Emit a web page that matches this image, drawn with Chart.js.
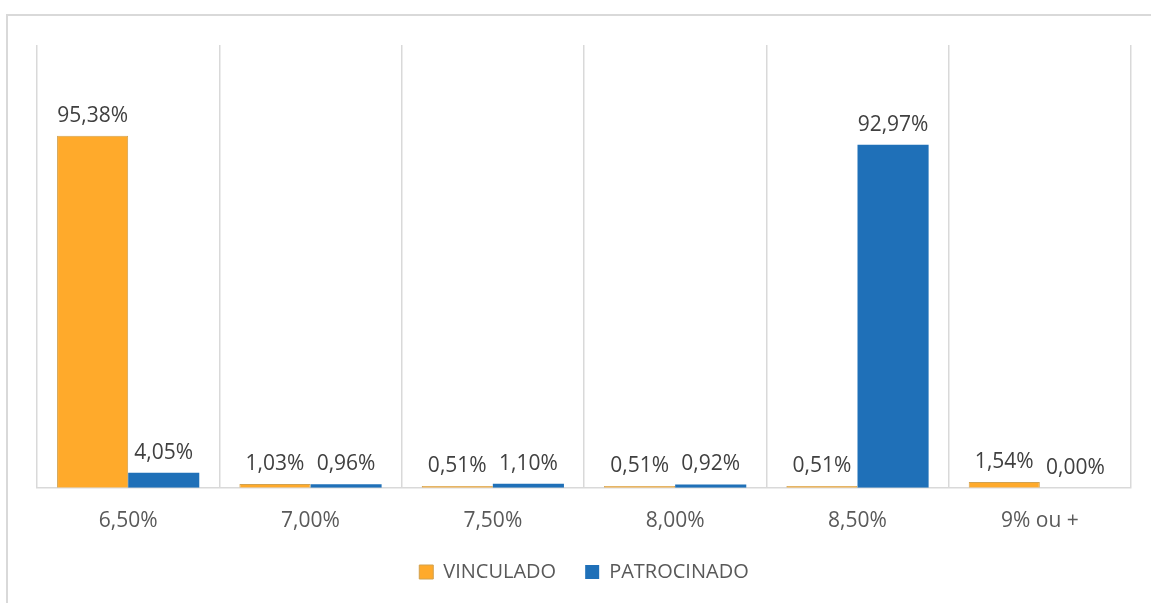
<!DOCTYPE html>
<html>
<head>
<meta charset="utf-8">
<script src="https://cdn.jsdelivr.net/npm/chart.js@4.4.1/dist/chart.umd.min.js"></script>
<style>
  html, body { margin: 0; padding: 0; background: #ffffff; }
  #wrap { position: relative; width: 1151px; height: 603px; }
  #moldura {
    position: absolute; left: 6px; top: 14px; right: 0; bottom: 0;
    border-top: 2px solid #d9d9d9; border-left: 2px solid #d9d9d9;
  }
  canvas { position: absolute; left: 0; top: 0; }
</style>
</head>
<body>
<div id="wrap">
  <div id="moldura"></div>
  <canvas id="myChart" width="1151" height="603"></canvas>
</div>
<script>
// categorias (taxas)
const categorias = ['6,50%', '7,00%', '7,50%', '8,00%', '8,50%', '9% ou +']

// nomes das series
const nomesSeries = ['VINCULADO', 'PATROCINADO']

// valores de cada serie (%)
const valoresVinculado = [95.38, 1.03, 0.51, 0.51, 0.51, 1.54]
const valoresPatrocinado = [4.05, 0.96, 1.10, 0.92, 92.97, 0.00]

// cores
const corVinculado = '#ffaa2b'
const bordaVinculado = '#d2a24f'
const corPatrocinado = '#1f70b8'

const fonte = "'Open Sans', 'DejaVu Sans', sans-serif"

// escreve o valor em cima de cada barra
const rotulos = {
    id: 'rotulos',
    afterDatasetsDraw(chart) {
        const ctx = chart.ctx
        ctx.save()
        ctx.font = '21px ' + fonte
        ctx.fillStyle = '#404040'
        ctx.textAlign = 'center'
        ctx.textBaseline = 'alphabetic'
        chart.data.datasets.forEach((ds, i) => {
            const meta = chart.getDatasetMeta(i)
            meta.data.forEach((barra, j) => {
                const txt = ds.data[j].toFixed(2).replace('.', ',') + '%'
                ctx.fillText(txt, barra.x, barra.y - 14)
            })
        })
        ctx.restore()
    }
}

function grafico_Barras() {
    const ctx = document.getElementById('myChart')

    new Chart(ctx, {
        type: 'bar',
        data: {
            labels: categorias,
            datasets: [{
                label: nomesSeries[0],
                data: valoresVinculado,
                backgroundColor: corVinculado,
                borderColor: bordaVinculado,
                borderWidth: 1,
                barPercentage: 1,
                categoryPercentage: 0.78
            },
            {
                label: nomesSeries[1],
                data: valoresPatrocinado,
                backgroundColor: corPatrocinado,
                borderColor: corPatrocinado,
                borderWidth: 0,
                barPercentage: 1,
                categoryPercentage: 0.78
            }]
        },
        options: {
            responsive: false,
            animation: false,
            layout: {
                padding: { left: 37, right: 20, top: 45, bottom: 11 }
            },
            scales: {
                x: {
                    grid: {
                        offset: true,
                        color: '#d9d9d9',
                        lineWidth: 1.5,
                        drawTicks: false
                    },
                    border: { color: '#d9d9d9', width: 1.5 },
                    ticks: {
                        color: '#595959',
                        padding: 21,
                        font: { family: fonte, size: 21 }
                    },
                    afterFit(escala) {
                        escala.height -= 22
                    }
                },
                y: {
                    display: false,
                    min: 0,
                    max: 120
                }
            },
            plugins: {
                legend: {
                    position: 'bottom',
                    labels: {
                        color: '#595959',
                        boxWidth: 14,
                        boxHeight: 14,
                        padding: 29,
                        font: { family: fonte, size: 20 }
                    }
                },
                tooltip: { enabled: false }
            }
        },
        plugins: [rotulos]
    })
}

grafico_Barras()
</script>
</body>
</html>
